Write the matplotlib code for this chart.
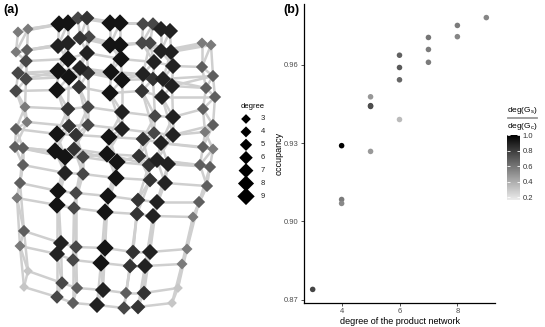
import numpy as np
import matplotlib
matplotlib.use("Agg")
import matplotlib.pyplot as plt
from matplotlib.collections import LineCollection
from matplotlib.colors import LinearSegmentedColormap
from matplotlib.lines import Line2D

plt.rcParams['font.family'] = ['Liberation Sans', 'DejaVu Sans']

# ---- panel (b): occupancy vs degree of the product network ----
prod_degree = [3, 4, 4, 4, 5, 5, 5, 5, 6, 6, 6, 6, 7, 7, 7, 8, 8, 9]
occupancy = [0.874, 0.929, 0.9084, 0.9069, 0.9477, 0.9443, 0.944, 0.9268,
             0.9636, 0.9589, 0.9542, 0.939, 0.9704, 0.9658, 0.9609,
             0.975, 0.9707, 0.978]
deg_ratio = [0.77, 1.0, 0.58, 0.53, 0.48, 0.77, 0.74, 0.47,
             0.67, 0.70, 0.65, 0.35, 0.60, 0.58, 0.58, 0.58, 0.54, 0.54]
ratio_ticks = [0.2, 0.4, 0.6, 0.8, 1.0]

# ---- panel (a): product network layout (one list per column of the drawing) ----
rows_std = [0, 0, 1, 1, 2, 3, 3, 4, 5, 6, 7, 8, 8, 9, 10, 11, 12, 13, 14, 15]

A_x = [18, 28, 16, 27, 26, 18, 26, 16, 25, 27, 16, 15, 23, 23, 20, 17, 24, 20, 28, 24]
A_y = [32, 29, 52, 50, 61, 73, 79, 91, 107, 122, 129, 147, 148, 165, 183, 198, 231, 246, 271, 287]
A_deg = [4, 4, 4, 5, 6, 6, 6, 6, 4, 4, 5, 5, 5, 5, 5, 4, 5, 4, 3, 3]

B_x = [59, 68, 58, 68, 68, 58, 69, 57, 68, 69, 57, 55, 65, 65, 58, 57, 61, 57, 62, 57]
B_y = [24, 23, 46, 43, 59, 71, 77, 90, 109, 126, 134, 151, 157, 173, 191, 205, 243, 254, 283, 297]
B_deg = [9, 9, 8, 8, 9, 9, 9, 9, 7, 7, 9, 9, 9, 8, 9, 9, 8, 8, 6, 6]

C_x = [78, 87, 80, 89, 87, 80, 88, 79, 88, 88, 76, 74, 83, 83, 76, 74, 76, 73, 77, 73]
C_y = [18, 18, 38, 37, 53, 68, 73, 87, 107, 125, 135, 149, 157, 174, 193, 208, 247, 260, 288, 303]
C_deg = [6, 7, 7, 6, 8, 8, 7, 7, 6, 6, 7, 7, 6, 6, 6, 6, 6, 6, 5, 5]

D_x = [110, 120, 110, 120, 121, 111, 122, 110, 122, 122, 109, 107, 117, 116, 108, 105, 105, 101, 103, 97]
D_y = [23, 23, 45, 45, 59, 72, 80, 93, 112, 129, 137, 154, 162, 178, 196, 212, 248, 263, 290, 305]
D_deg = [9, 9, 9, 9, 9, 9, 9, 9, 8, 8, 9, 9, 9, 9, 9, 9, 9, 9, 8, 8]

E_x = [143, 153, 142, 150, 154, 143, 153, 142, 155, 154, 143, 139, 149, 150, 138, 137, 133, 130, 126, 124]
E_y = [24, 24, 43, 43, 62, 74, 79, 91, 116, 133, 139, 156, 165, 180, 200, 214, 252, 266, 293, 308]
E_deg = [6, 6, 6, 6, 8, 8, 7, 7, 6, 6, 7, 7, 7, 7, 7, 7, 7, 7, 5, 6]

F_x = [161, 170, 161, 171, 173, 163, 172, 162, 173, 173, 161, 157, 168, 165, 157, 153, 150, 145, 144, 138]
F_y = [29, 31, 51, 52, 66, 79, 86, 97, 117, 135, 143, 160, 164, 183, 202, 216, 252, 266, 293, 307]
F_deg = [8, 8, 8, 8, 8, 8, 8, 8, 8, 8, 8, 8, 8, 8, 8, 8, 8, 8, 7, 7]

G_x = [202, 211, 202, 213, 206, 215, 203, 213, 205, 203, 213, 200, 210, 207, 199, 193, 187, 182, 178, 172]
G_y = [43, 45, 67, 76, 88, 97, 109, 125, 132, 147, 149, 165, 167, 186, 202, 217, 249, 264, 288, 303]
G_row = [1, 1, 2, 3, 3, 4, 5, 6, 6, 7, 7, 8, 8, 9, 10, 11, 12, 13, 14, 15]
G_deg = [4, 4, 5, 5, 5, 5, 5, 5, 4, 5, 4, 5, 5, 5, 5, 4, 4, 4, 3, 3]

legend_degrees = [3, 4, 5, 6, 7, 8, 9]
degree_grays = {3: '#c6c6c6', 4: '#7a7a7a', 5: '#5e5e5e', 6: '#474747',
                7: '#333333', 8: '#222222', 9: '#141414'}


def diamond_size(d):
    return (3.0 + 0.65 * d) ** 2


columns = [
    (A_x, A_y, rows_std, A_deg),
    (B_x, B_y, rows_std, B_deg),
    (C_x, C_y, rows_std, C_deg),
    (D_x, D_y, rows_std, D_deg),
    (E_x, E_y, rows_std, E_deg),
    (F_x, F_y, rows_std, F_deg),
    (G_x, G_y, G_row, G_deg),
]

fig = plt.figure(figsize=(5.45, 3.27), dpi=100)

# ---------------- panel (a) ----------------
ax_a = fig.add_axes([0, 0, 280 / 545, 1])
ax_a.set_xlim(0, 280)
ax_a.set_ylim(327, 0)
ax_a.axis('off')

segs = []
for xs, ys, rows, _ in columns:
    n = len(xs)
    for i in range(n):
        for step in (1, 2):
            if i + step < n:
                segs.append([(xs[i], ys[i]), (xs[i + step], ys[i + step])])
for (x1, y1, r1, _), (x2, y2, r2, _) in zip(columns[:-1], columns[1:]):
    for i in range(len(x1)):
        for j in range(len(x2)):
            if r1[i] == r2[j]:
                segs.append([(x1[i], y1[i]), (x2[j], y2[j])])
ax_a.add_collection(LineCollection(segs, colors='#cfcfcf', linewidths=1.8, zorder=1))

for xs, ys, rows, degs in columns:
    order = np.argsort(degs, kind='stable')
    ax_a.scatter(np.array(xs)[order], np.array(ys)[order], marker='D',
                 s=[diamond_size(degs[k]) for k in order],
                 c=[degree_grays[degs[k]] for k in order], linewidths=0, zorder=2)

# degree legend
leg_y = 119 + 12.9 * np.arange(len(legend_degrees))
ax_a.text(253, 106, 'degree', fontsize=5.5, ha='center', va='center')
ax_a.scatter(np.full(len(legend_degrees), 246), leg_y, marker='D',
             s=[diamond_size(d) for d in legend_degrees], c='black', linewidths=0)
for d, yy in zip(legend_degrees, leg_y):
    ax_a.text(261, yy, str(d), fontsize=5.5, ha='left', va='center', color='#222222')

fig.text(3 / 545, 1 - 10 / 327, '(a)', fontsize=9, fontweight='bold', va='center')

# ---------------- panel (b) ----------------
cmap = LinearSegmentedColormap.from_list(
    'greys_gg', ['#ebebeb', '#b4b4b4', '#7a7a7a', '#3f3f3f', '#000000'])

ax_b = fig.add_axes([304 / 545, 24 / 327, 191 / 545, 299 / 327])
sc = ax_b.scatter(prod_degree, occupancy, c=deg_ratio, cmap=cmap,
                  vmin=0.167, vmax=1.0, s=16, linewidths=0, zorder=3)
ax_b.set_xlim(2.7, 9.3)
ax_b.set_ylim(0.8688, 0.9832)
ax_b.set_xticks([4, 6, 8])
ax_b.set_yticks([0.87, 0.90, 0.93, 0.96])
ax_b.set_yticklabels(['0.87', '0.90', '0.93', '0.96'])
for side in ('top', 'right'):
    ax_b.spines[side].set_visible(False)
for side in ('left', 'bottom'):
    ax_b.spines[side].set_linewidth(0.9)
    ax_b.spines[side].set_color('black')
ax_b.tick_params(length=2.5, width=0.6, color='#333333', labelsize=5.5,
                 labelcolor='#4d4d4d', pad=1.2)
ax_b.set_xlabel('degree of the product network', fontsize=6.5, labelpad=1)
ax_b.set_ylabel('occupancy', fontsize=6.5, labelpad=0.5)

fig.text(283 / 545, 1 - 10 / 327, '(b)', fontsize=9, fontweight='bold', va='center')

# colour bar
cax = fig.add_axes([507 / 545, (327 - 200) / 327, 13 / 545, 65 / 327])
cb = fig.colorbar(sc, cax=cax, ticks=ratio_ticks)
cb.outline.set_visible(False)
cb.ax.set_yticklabels(['0.2', '0.4', '0.6', '0.8', '1.0'])
cb.ax.tick_params(direction='in', left=True, right=True, color='white',
                  length=2.5, width=0.6, labelsize=5.5, labelcolor='#333333', pad=2)

fig.text(522 / 545, 1 - 111 / 327, 'deg(G$_\\mathregular{s}$)', fontsize=6,
         ha='center', va='center')
fig.add_artist(Line2D([508 / 545, 537 / 545], [1 - 118 / 327] * 2,
                      color='#999999', lw=1.3))
fig.text(522 / 545, 1 - 126 / 327, 'deg(G$_\\mathregular{c}$)', fontsize=6,
         ha='center', va='center')

fig.savefig('out.png', dpi=100)
